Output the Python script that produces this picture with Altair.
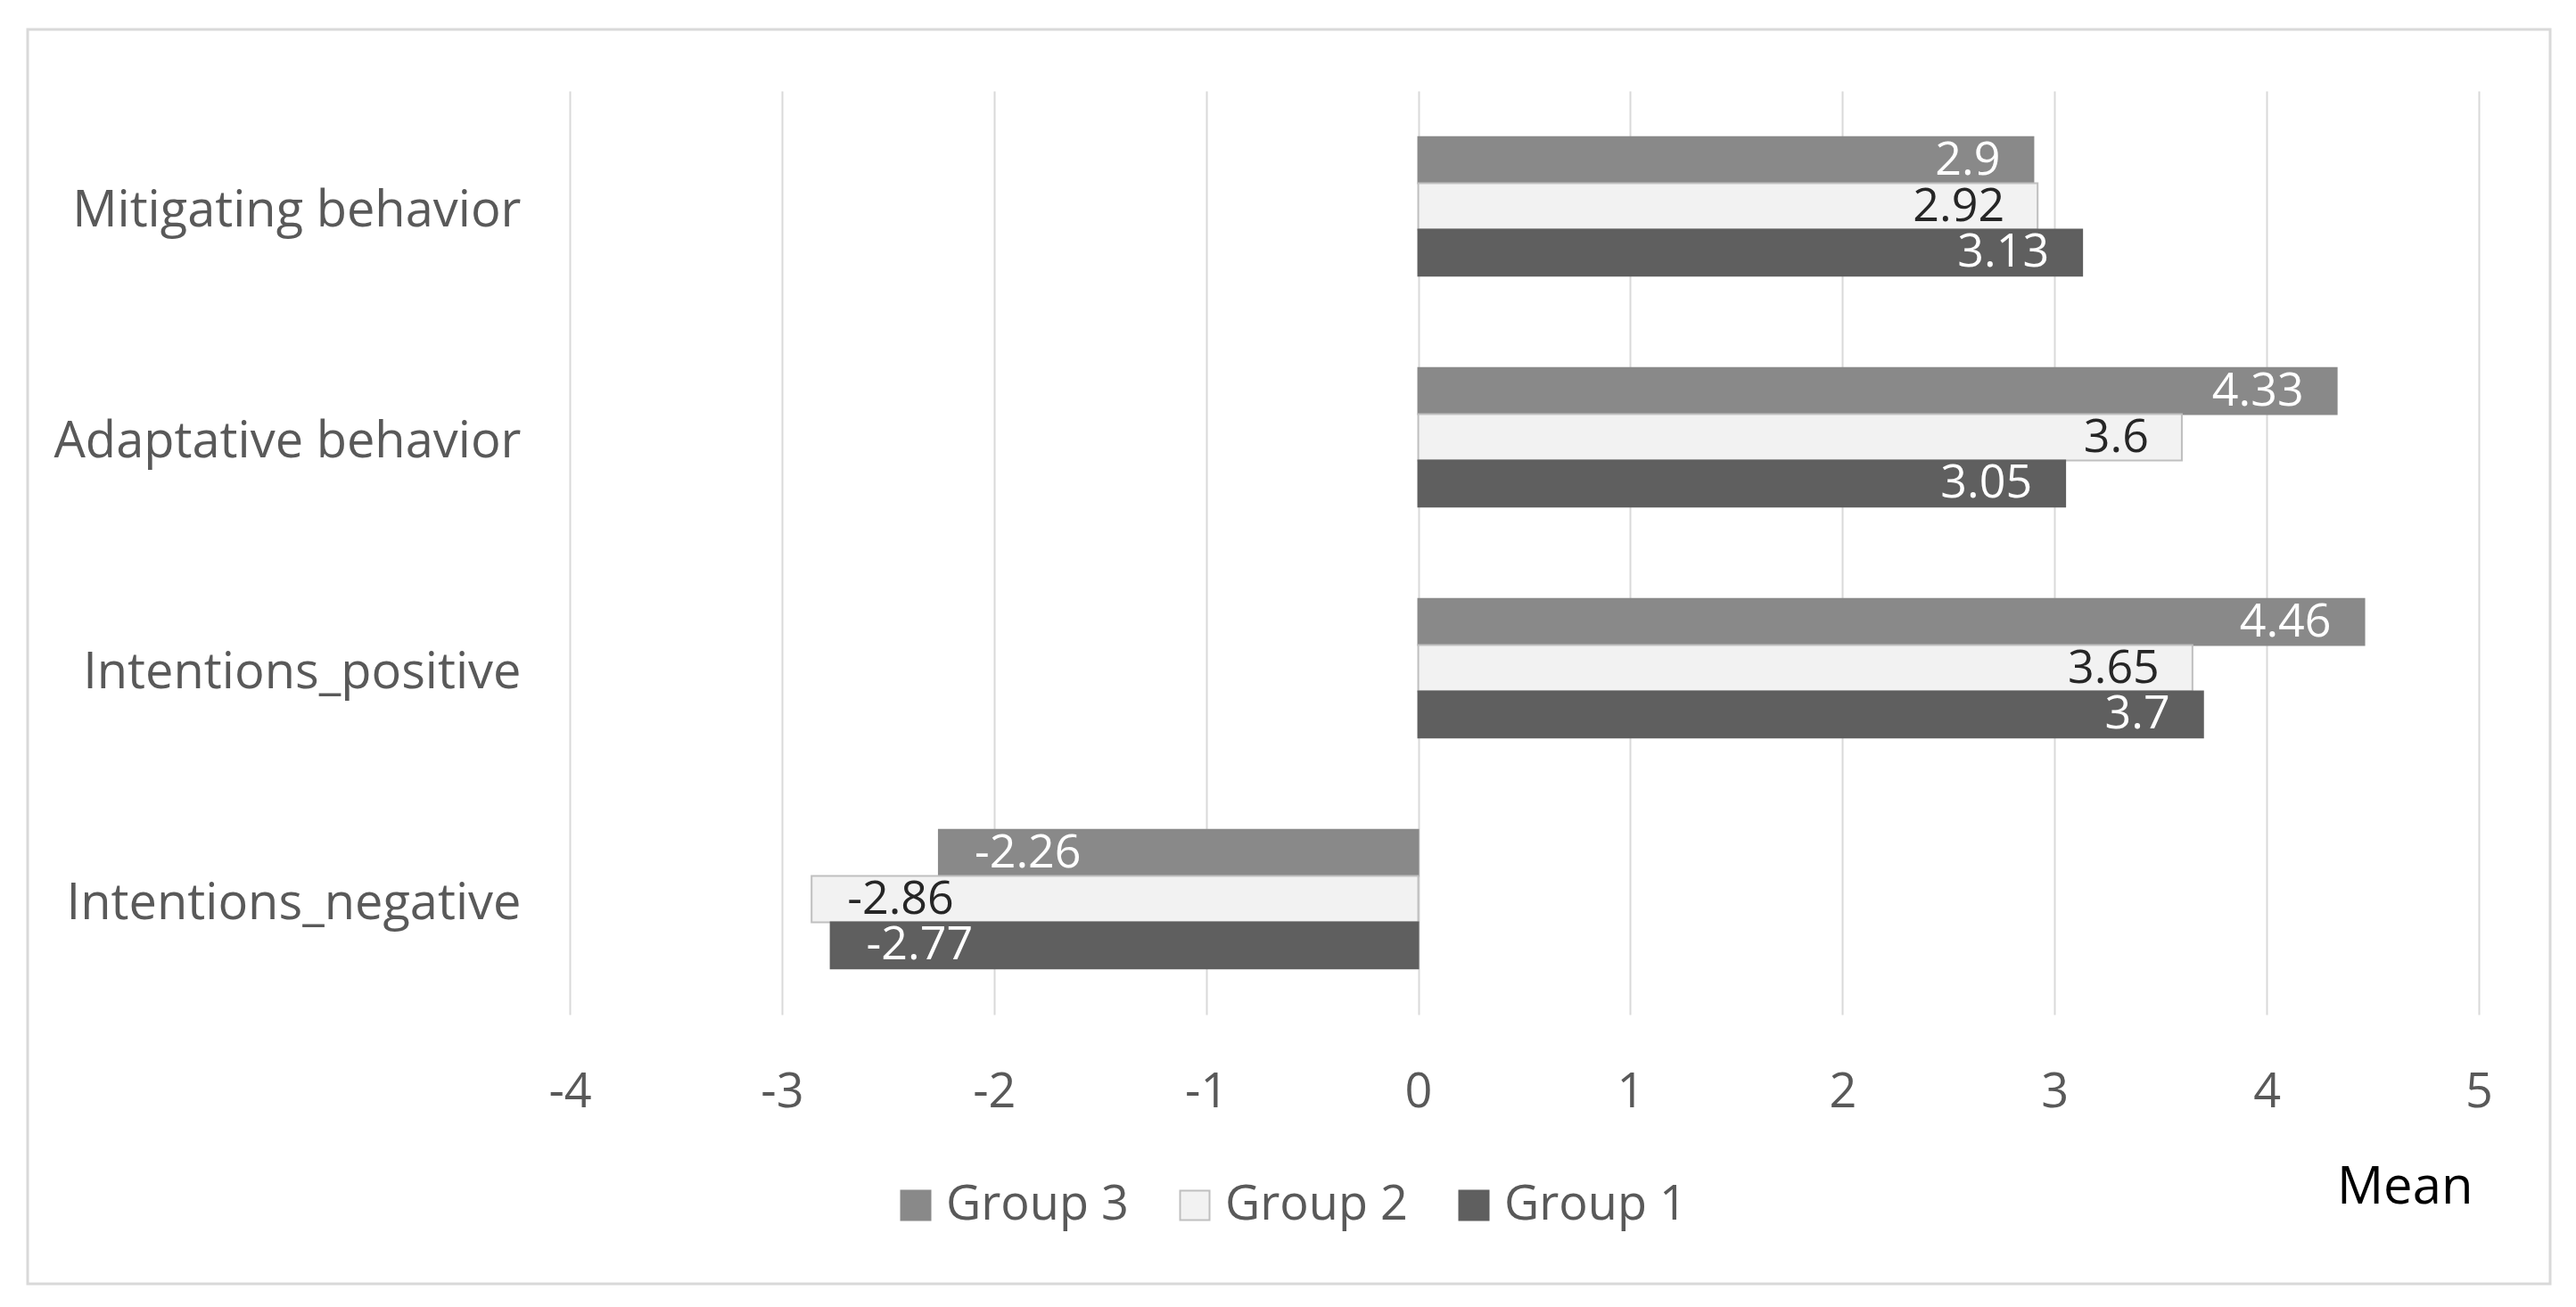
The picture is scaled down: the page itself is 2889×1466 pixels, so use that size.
import altair as alt
import pandas as pd

categories = ["Mitigating behavior", "Adaptative behavior", "Intentions_positive", "Intentions_negative"]
groups = ["Group 3", "Group 2", "Group 1"]
group3 = [2.9, 4.33, 4.46, -2.26]
group2 = [2.92, 3.6, 3.65, -2.86]
group1 = [3.13, 3.05, 3.7, -2.77]
x_ticks = [-4, -3, -2, -1, 0, 1, 2, 3, 4, 5]

fills = ["#898989", "#f2f2f2", "#5f5f5f"]
strokes = ["#898989", "#bfbfbf", "#5f5f5f"]
label_colors = ["#ffffff", "#262626", "#ffffff"]

rows = []
for g, vals in zip(groups, [group3, group2, group1]):
    for c, v in zip(categories, vals):
        rows.append({"Category": c, "Group": g, "Value": v, "Label": str(v)})
df = pd.DataFrame(rows)

W, H = 2141, 1036
FONT = "Open Sans"

y = alt.Y("Category:N", sort=categories,
          scale=alt.Scale(paddingInner=0.4, paddingOuter=0.2),
          axis=alt.Axis(title=None, domain=False, ticks=False, grid=False,
                        labelPadding=55, labelFontSize=56, labelColor="#595959",
                        labelFont=FONT, labelLimit=0, labelOffset=5))
yoff = alt.YOffset("Group:N", sort=groups, scale=alt.Scale(paddingInner=0, paddingOuter=0))
x = alt.X("Value:Q", scale=alt.Scale(domain=[-4, 5], nice=False, zero=False),
          axis=alt.Axis(values=x_ticks, labelExpr="'' + datum.value", labelFlush=False,
                        title="Mean", titleX=2134, titleY=211, titleAlign="right",
                        titleBaseline="alphabetic", titleAngle=0, titleFontSize=58,
                        titleFontWeight="normal", titleColor="#000000", titleFont=FONT,
                        domain=False, ticks=False, labelPadding=60, labelFontSize=54,
                        labelColor="#595959", labelFont=FONT,
                        gridColor="#d9d9d9", gridWidth=2))

leg = dict(orient="none", legendX=361, legendY=1223, direction="horizontal", title=None,
           symbolType="square", symbolSize=1089, labelFontSize=54, labelColor="#595959",
           labelFont=FONT, columnPadding=47, labelOffset=7, symbolStrokeWidth=2,
           labelLimit=0)

bars = alt.Chart(df).mark_bar(strokeWidth=2).encode(
    x=x, y=y, yOffset=yoff,
    fill=alt.Fill("Group:N", sort=groups, scale=alt.Scale(domain=groups, range=fills),
                  legend=alt.Legend(**leg)),
    stroke=alt.Stroke("Group:N", sort=groups, scale=alt.Scale(domain=groups, range=strokes),
                      legend=alt.Legend(**leg)),
)

txt_color = alt.Color("Group:N", scale=alt.Scale(domain=groups, range=label_colors), legend=None)

pos = alt.Chart(df).transform_filter("datum.Value > 0").mark_text(
    align="right", baseline="middle", dx=-37, fontSize=52, font=FONT).encode(
    x=alt.X("Value:Q"), y=alt.Y("Category:N", sort=categories), yOffset=alt.YOffset("Group:N", sort=groups),
    text="Label:N", color=txt_color)

neg = alt.Chart(df).transform_filter("datum.Value < 0").mark_text(
    align="left", baseline="middle", dx=40, fontSize=52, font=FONT).encode(
    x=alt.X("Value:Q"), y=alt.Y("Category:N", sort=categories), yOffset=alt.YOffset("Group:N", sort=groups),
    text="Label:N", color=txt_color)

frame = alt.Chart(pd.DataFrame({"k": [0]})).mark_rect(
    filled=False, stroke="#d9d9d9", strokeWidth=3).encode(
    x=alt.value(-608), x2=alt.value(2221), y=alt.value(-69), y2=alt.value(1338))

chart = alt.layer(frame, bars, pos, neg).properties(
    width=W, height=H,
    padding={"left": 631, "top": 94, "right": 100, "bottom": 310},
    autosize=alt.AutoSizeParams(type="none"),
    background="white",
).configure_view(strokeWidth=0)

chart.save("out.html", embed_options={"renderer": "svg", "actions": False})
